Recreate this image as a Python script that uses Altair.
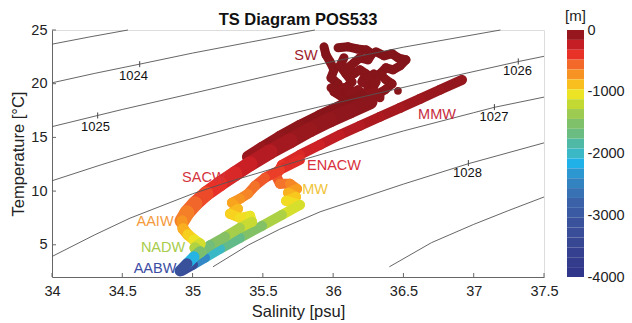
import altair as alt
import pandas as pd

FONT = "Liberation Sans"

# ---------------- axes ----------------
x_ticks = [34, 34.5, 35, 35.5, 36, 36.5, 37, 37.5]
y_ticks = [5, 10, 15, 20, 25]
cbar_ticks = [0, -1000, -2000, -3000, -4000]
title_text = ["TS Diagram POS533"]

# ---------------- colour map (depth -> colour) ----------------
cmap_depth = [-4000, -3500, -3100, -2800, -2550, -2350, -2150, -2000, -1850, -1700,
              -1450, -1200, -1050, -950, -800, -600, -400, -250, 0]
cmap_color = ["#2f3387", "#374592", "#3a539d", "#3b62a9", "#377bbb", "#2f92cd", "#20b3ea",
              "#3bb8c6", "#4eb9a8", "#68bb84", "#88c260", "#c2d934", "#ece526", "#f7d51f",
              "#f9a51f", "#f4772a", "#e83228", "#c81e25", "#7f1419"]
cbar_edges = [0, -160, -320, -480, -640, -800, -960, -1120, -1280, -1440, -1600, -1760,
              -1920, -2080, -2240, -2400, -2560, -2720, -2880, -3040, -3200, -3360, -3520,
              -3680, -3840, -4000]

# ---------------- density contours ----------------
c23_S = [34.0, 34.27, 34.54]
c23_T = [23.68, 24.36, 25.0]
c24_S = [34.0, 34.3, 34.624, 35.0, 35.4, 35.87]
c24_T = [20.08, 20.95, 21.82, 22.85, 23.85, 25.0]
c25_S = [34.0, 34.325, 34.5, 35.0, 35.5, 35.87, 36.5, 37.19]
c25_T = [16.0, 17.04, 17.6, 19.1, 20.62, 21.72, 23.4, 25.0]
c26_S = [34.0, 34.35, 34.697, 35.3, 35.907, 36.6, 37.317, 37.5]
c26_T = [10.96, 12.45, 13.84, 15.95, 17.86, 19.96, 22.06, 22.55]
c27_S = [34.0, 34.3, 34.555, 35.0, 35.266, 35.6, 36.0, 36.5, 37.0, 37.147, 37.5]
c27_T = [3.91, 5.9, 7.48, 9.75, 10.9, 12.2, 13.75, 15.6, 17.3, 17.8, 18.75]
c28_S = [35.145, 35.4, 35.62, 35.907, 36.5, 36.962, 37.5]
c28_T = [2.95, 5.0, 6.45, 8.07, 10.65, 12.55, 14.49]
c29_S = [36.40, 36.7, 37.0, 37.25, 37.5]
c29_T = [2.95, 5.2, 6.9, 8.2, 9.45]

clabel_text = ["1024", "1025", "1026", "1027", "1028"]
clabel_S = [34.580, 34.309, 37.311, 37.144, 36.956]
clabel_T = [20.73, 15.94, 21.15, 16.87, 11.70]
cmark_S = [34.624, 34.325, 37.317, 37.147, 36.962]
cmark_T = [21.82, 17.04, 22.07, 17.82, 12.61]

# ---------------- water-mass labels ----------------
mass_name = ["SW", "MMW", "ENACW", "SACW", "MW", "AAIW", "NADW", "AABW"]
mass_S = [35.807, 36.739, 36.006, 35.080, 35.871, 34.733, 34.790, 34.733]
mass_T = [22.60, 17.10, 12.35, 11.24, 10.12, 7.09, 4.67, 2.72]
mass_color = ["#9e1c2c", "#c72c3c", "#d8303c", "#d4343c", "#f0c43a", "#f49a3c", "#a8cc4c", "#3c4ea4"]

# ---------------- CTD profiles (salinity, temperature, depth) ----------------
sw1_S = [35.935, 35.949, 35.978, 36.006, 35.985, 36.035, 36.006, 36.063, 36.120, 36.177]
sw1_T = [23.44, 22.69, 22.04, 21.29, 20.55, 19.99, 19.24, 18.78, 18.41, 18.13]
sw1_D = [-10, -12, -15, -18, -20, -22, -25, -28, -32, -36]
sw2_S = [36.035, 36.106, 36.170, 36.234, 36.276, 36.248, 36.191, 36.148, 36.106, 36.148,
         36.191, 36.234, 36.205, 36.262, 36.234, 36.276]
sw2_T = [23.34, 23.44, 23.24, 23.15, 22.79, 22.22, 22.41, 21.94, 21.48, 20.92,
         21.29, 20.92, 20.17, 19.80, 19.06, 18.68]
sw2_D = [-5, -8, -10, -12, -14, -16, -18, -20, -22, -24, -26, -28, -30, -33, -36, -40]
sw3_S = [36.305, 36.362, 36.419, 36.461, 36.518, 36.476, 36.426, 36.376, 36.333, 36.376,
         36.419, 36.369, 36.319, 36.262]
sw3_T = [22.97, 22.60, 22.79, 22.41, 22.22, 21.66, 21.29, 21.48, 20.92, 20.36,
         19.99, 19.43, 19.06, 18.31]
sw3_D = [-5, -8, -10, -12, -14, -16, -18, -20, -22, -25, -28, -31, -34, -38]
sw4_S = [36.077, 36.049, 36.091, 36.134, 36.091, 36.148, 36.205]
sw4_T = [22.41, 21.66, 20.92, 20.17, 19.62, 19.24, 18.87]
sw4_D = [-15, -18, -21, -24, -27, -30, -34]
sw5_S = [36.291, 36.248, 36.305, 36.276, 36.333]
sw5_T = [20.92, 20.55, 20.17, 19.43, 18.87]
sw5_D = [-20, -24, -28, -32, -36]
sw6_S = [35.985, 36.035, 36.077, 36.120, 36.177, 36.234, 36.291, 36.333]
sw6_T = [19.62, 19.24, 19.62, 19.06, 19.43, 18.87, 19.24, 18.68]
sw6_D = [-30, -32, -34, -36, -38, -40, -42, -44]
swdot_S = [36.461]
swdot_T = [19.34]
swdot_D = [-30]

sacw_S = [36.262, 36.120, 35.978, 35.835, 35.693, 35.551, 35.409, 35.302, 35.195, 35.096,
          35.017, 34.960, 34.925]
sacw_T = [18.31, 17.47, 16.64, 15.71, 14.68, 13.66, 12.54, 11.61, 10.68, 9.75, 8.82, 7.98, 7.23]
sacw_D = [-40, -50, -60, -80, -100, -150, -220, -290, -360, -430, -510, -590, -680]

sacwtop_S = [36.205, 36.063, 35.907, 35.764, 35.622, 35.494, 35.394]
sacwtop_T = [18.78, 17.94, 17.01, 16.08, 15.05, 14.03, 13.19]
sacwtop_D = [-20, -25, -30, -40, -55, -75, -100]

nadw_S = [34.925, 34.932, 34.967, 35.010, 35.053, 35.017, 35.053, 35.010, 34.960, 34.911]
nadw_T = [7.23, 6.49, 5.93, 5.46, 5.09, 4.72, 4.35, 3.88, 3.23, 2.57]
nadw_D = [-680, -780, -880, -980, -1080, -1200, -1350, -1750, -2500, -3900]

mmw_S = [36.917, 36.760, 36.618, 36.476, 36.333, 36.191, 36.049, 35.907, 35.764, 35.636,
         35.594, 35.622, 35.693, 35.743, 35.679, 35.736, 35.665, 35.764, 35.636, 35.494,
         35.337, 35.195, 35.088, 35.003, 34.925]
mmw_T = [20.36, 19.43, 18.59, 17.75, 16.92, 16.08, 15.24, 14.31, 13.38, 12.45,
         11.42, 10.68, 10.68, 10.21, 9.84, 9.47, 9.09, 8.72, 7.79, 6.77,
         5.65, 4.63, 3.79, 3.14, 2.57]
mmw_D = [-60, -80, -100, -120, -140, -170, -200, -250, -300, -360,
         -450, -560, -620, -720, -800, -880, -940, -1050, -1200, -1380,
         -1600, -1850, -2150, -2700, -3900]

enacw_S = [35.764, 35.622, 35.515, 35.444, 35.394, 35.337, 35.280, 35.323, 35.266, 35.337,
           35.409, 35.423, 35.337, 35.231, 35.124, 35.046]
enacw_T = [12.91, 11.98, 11.24, 10.49, 9.75, 9.28, 8.91, 8.35, 7.88, 7.51,
           7.70, 7.14, 6.58, 5.74, 4.95, 4.16]
enacw_D = [-330, -400, -470, -550, -620, -700, -760, -830, -900, -980,
           -1020, -1100, -1250, -1400, -1550, -1700]


def seg_df(profiles):
    rows = []
    for S, T, D in profiles:
        for i in range(len(S) - 1):
            rows.append({"S": S[i], "T": T[i], "S2": S[i + 1], "T2": T[i + 1],
                         "depth": (D[i] + D[i + 1]) / 2})
    return pd.DataFrame(rows)


xs = alt.Scale(domain=[34, 37.5], nice=False, zero=False)
ys = alt.Scale(domain=[2, 25], nice=False, zero=False)
cs = alt.Scale(domain=cmap_depth, range=cmap_color, interpolate="rgb")

x_axis = alt.Axis(values=x_ticks, labelExpr="'' + datum.value", labelFlush=False, ticks=False,
                  grid=False, domainColor="#666", labelFont=FONT, labelFontSize=14.5,
                  labelColor="#222", labelPadding=7, title="Salinity [psu]", titleFont=FONT,
                  titleFontSize=16.5, titleFontWeight="normal", titleColor="#222",
                  titleY=34, titleBaseline="middle")
y_axis = alt.Axis(values=y_ticks, labelExpr="'' + datum.value", ticks=False, grid=False,
                  domainColor="#666", labelFont=FONT, labelFontSize=14.5, labelColor="#222",
                  labelPadding=5, title="Temperature [°C]", titleFont=FONT, titleFontSize=16.5,
                  titleFontWeight="normal", titleColor="#222", titleX=-34, titleY=123.5,
                  titleAngle=270, titleAlign="center", titleBaseline="middle")

X = alt.X("S:Q", scale=xs, axis=x_axis)
Y = alt.Y("T:Q", scale=ys, axis=y_axis)
C = alt.Color("depth:Q", scale=cs, legend=None)


def band(profiles, width):
    return alt.Chart(seg_df(profiles)).mark_rule(strokeWidth=width, strokeCap="round").encode(
        x=X, y=Y, x2="S2:Q", y2="T2:Q", color=C)


sw_layer = band([(sw1_S, sw1_T, sw1_D), (sw2_S, sw2_T, sw2_D), (sw3_S, sw3_T, sw3_D),
                 (sw4_S, sw4_T, sw4_D), (sw5_S, sw5_T, sw5_D), (sw6_S, sw6_T, sw6_D)], 9)
swdot_layer = alt.Chart(pd.DataFrame({"S": swdot_S, "T": swdot_T, "depth": swdot_D})).mark_circle(
    size=60, opacity=1).encode(x=X, y=Y, color=C)
mmw_layer = band([(mmw_S, mmw_T, mmw_D)], 10)
enacw_layer = band([(enacw_S, enacw_T, enacw_D)], 10)
sacwtop_layer = band([(sacwtop_S, sacwtop_T, sacwtop_D)], 12)
sacw_layer = band([(sacw_S, sacw_T, sacw_D)], 15)
nadw_layer = band([(nadw_S, nadw_T, nadw_D)], 11)

# contours
crow = []
for lev, S, T in [("1023", c23_S, c23_T), ("1024", c24_S, c24_T), ("1025", c25_S, c25_T),
                  ("1026", c26_S, c26_T), ("1027", c27_S, c27_T), ("1028", c28_S, c28_T),
                  ("1029", c29_S, c29_T)]:
    for i, (s, t) in enumerate(zip(S, T)):
        crow.append({"level": lev, "order": i, "S": s, "T": t})
contour_layer = alt.Chart(pd.DataFrame(crow)).mark_line(color="#555", strokeWidth=0.9).encode(
    x=X, y=Y, detail="level:N", order="order:Q")
cmark_layer = alt.Chart(pd.DataFrame({"S": cmark_S, "T": cmark_T})).mark_point(
    shape="M0,-1L0,1", size=36, color="#444", strokeWidth=1, opacity=1).encode(x=X, y=Y)
clabel_layer = alt.Chart(pd.DataFrame({"S": clabel_S, "T": clabel_T, "txt": clabel_text})).mark_text(
    font=FONT, fontSize=13, color="#111", align="center", baseline="middle").encode(
    x=X, y=Y, text="txt:N")

mass_layers = []
for i in range(len(mass_name)):
    mass_layers.append(
        alt.Chart(pd.DataFrame({"S": [mass_S[i]], "T": [mass_T[i]], "txt": [mass_name[i]]}))
        .mark_text(font=FONT, fontSize=14.5, color=mass_color[i], align="center", baseline="middle")
        .encode(x=X, y=Y, text="txt:N"))

# inward axis ticks
xtick_layer = alt.Chart(pd.DataFrame({"S": x_ticks})).mark_rule(color="#666", strokeWidth=1).encode(
    x=X, y=alt.value(247), y2=alt.value(243))
ytick_layer = alt.Chart(pd.DataFrame({"T": y_ticks})).mark_rule(color="#666", strokeWidth=1).encode(
    y=Y, x=alt.value(0), x2=alt.value(4))

# chart title (text mark centred over the plot area)
title_layer = alt.Chart(pd.DataFrame({"txt": title_text})).mark_text(
    font=FONT, fontSize=16.5, fontWeight="bold", color="#111", align="center",
    baseline="alphabetic").encode(x=alt.value(246), y=alt.value(-5), text="txt:N")

main = alt.layer(sw_layer, swdot_layer, mmw_layer, enacw_layer, sacwtop_layer, sacw_layer,
                 nadw_layer, contour_layer, cmark_layer, clabel_layer, *mass_layers,
                 xtick_layer, ytick_layer, title_layer)

# colour bar
cb_df = pd.DataFrame({"top": cbar_edges[:-1], "bot": cbar_edges[1:]})
cb_df["mid"] = (cb_df["top"] + cb_df["bot"]) / 2
cb_axis = alt.Axis(orient="right", offset=40, values=cbar_ticks, labelExpr="'' + datum.value",
                   ticks=False, domain=False, grid=False, labelFont=FONT, labelFontSize=14.5,
                   labelColor="#222", labelPadding=3, title="[m]", titleFont=FONT,
                   titleFontSize=15, titleFontWeight="normal", titleColor="#222", titleAngle=0,
                   titleX=-9, titleY=-15, titleAlign="center", titleBaseline="middle")
cbar = alt.Chart(cb_df).mark_rect().encode(
    x=alt.value(515), x2=alt.value(532),
    y=alt.Y("top:Q", scale=alt.Scale(domain=[-4000, 0], nice=False, zero=False), axis=cb_axis),
    y2="bot:Q",
    color=alt.Color("mid:Q", scale=cs, legend=None))

chart = alt.layer(main, cbar).resolve_scale(y="independent").properties(
    width=492, height=247,
    padding={"left": 52, "top": 30, "right": 88, "bottom": 46},
    autosize="none",
).configure_view(stroke=None).configure(background="white")

chart.save("out.html", embed_options={"renderer": "svg", "actions": False})
